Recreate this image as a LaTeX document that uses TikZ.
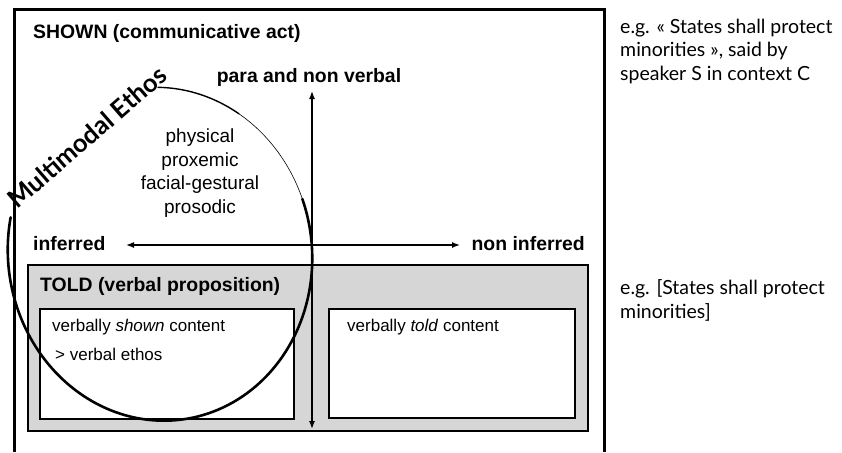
\documentclass[tikz,border=0pt]{standalone}
\usepackage{fontspec}
\setsansfont{Liberation Sans}
\newfontfamily\notefont{Lato}
\usetikzlibrary{arrows.meta}
\definecolor{toldgray}{RGB}{214,214,214}

\begin{document}
\begin{tikzpicture}[x=1pt,y=-1pt,
	axislabel/.style={font=\sffamily\bfseries\fontsize{19.4}{22}\selectfont, inner sep=0},
	contenttext/.style={font=\sffamily\fontsize{17}{19}\selectfont, anchor=base west, inner sep=0},
	example/.style={font=\notefont\fontsize{19.5}{23.5}\selectfont, align=left, anchor=base west, inner sep=0},
	axis/.style={{Latex[length=8pt,width=6pt]}-{Latex[length=8pt,width=6pt]}, line width=1.4pt}]
		\useasboundingbox (0,0) rectangle (842,452);
		% shown frame (runs off the bottom)
		\draw[line width=3pt] (14,452) -- (14,10) -- (604,10) -- (604,452);
		\node[axislabel, anchor=base west] (shown) at (33,38) {SHOWN (communicative act)};
		% told box
		\draw[line width=2.5pt, fill=toldgray] (28,265) rectangle (588,431);
		\node[axislabel, anchor=base west] (told) at (40,291) {TOLD (verbal proposition)};
		\draw[line width=1.2pt, fill=white] (40,309) rectangle (294,419);
		\draw[line width=1.2pt, fill=white] (329,309) rectangle (575,418);
		\node[contenttext] (shownc) at (52,331) {verbally \textit{shown} content};
		\node[contenttext] (ethos) at (55,360) {> verbal ethos};
		\node[contenttext] (toldc) at (347,331) {verbally \textit{told} content};
		% axes
		\coordinate (nvtop) at (312,91);
		\coordinate (nvbot) at (312,429);
		\coordinate (infl) at (126,245);
		\coordinate (infr) at (460,245);
		\draw[axis] (nvbot) -- (nvtop);
		\draw[axis] (infl) -- (infr);
		\node[axislabel, anchor=base] (para) at (309,82) {para and non verbal};
		\node[axislabel, anchor=base west] (inferred) at (33,250) {inferred};
		\node[axislabel, anchor=base east] (noninferred) at (585,250) {non inferred};
		\node[font=\sffamily\fontsize{19}{23.5}\selectfont, align=center, anchor=base, inner sep=0] (channels) at (200,213)
			{physical\\proxemic\\facial-gestural\\prosodic};
		% multimodal ethos
		\draw[line width=2.6pt, line cap=round] plot[domain=160:372, samples=120, smooth]
			({160+152*cos(\x)*0.990-167*sin(\x)*0.139}, {254-(152*cos(\x)*0.139+167*sin(\x)*0.990)});
		\draw[line width=0.6pt, line cap=round] plot[domain=372:412, samples=30, smooth]
			({160+152*cos(\x)*0.990-167*sin(\x)*0.139}, {254-(152*cos(\x)*0.139+167*sin(\x)*0.990)});
		\draw[line width=1.4pt, line cap=round] plot[domain=410:442, samples=30, smooth]
			({160+152*cos(\x)*0.990-167*sin(\x)*0.139}, {254-(152*cos(\x)*0.139+167*sin(\x)*0.990)});
		\node[font=\notefont\bfseries\fontsize{25.5}{28}\selectfont, rotate=41, inner sep=0] (mmethos) at (87,137) {Multimodal Ethos};
		% examples
		\node[example] (ex1) at (620,80) {e.g. « States shall protect\\minorities », said by\\speaker S in context C};
		\node[example] (ex2) at (620,318) {e.g. [States shall protect\\minorities]};
	\end{tikzpicture}
\end{document}
